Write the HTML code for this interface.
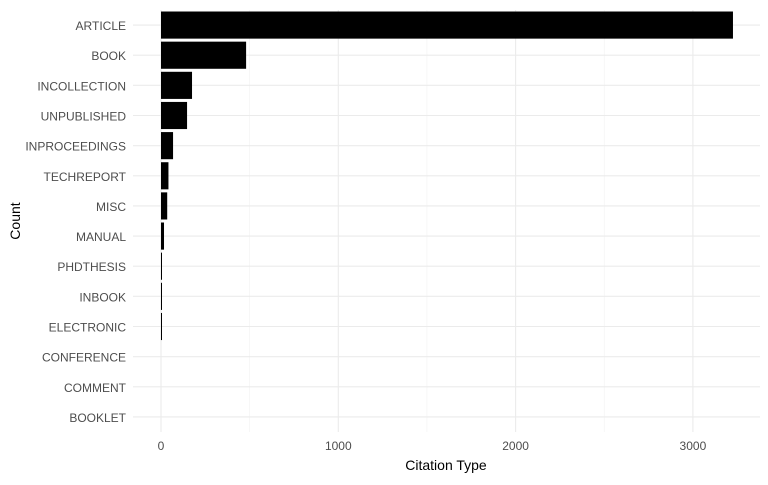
<!DOCTYPE html>
<html><head><meta charset="utf-8"><style>body{margin:0;background:#fff}svg{font-family:"Liberation Sans",sans-serif}</style></head>
<body>
<svg id="c" width="768" height="480" xmlns="http://www.w3.org/2000/svg"></svg>
<script>
const categories=["ARTICLE","BOOK","INCOLLECTION","UNPUBLISHED","INPROCEEDINGS","TECHREPORT","MISC","MANUAL","PHDTHESIS","INBOOK","ELECTRONIC","CONFERENCE","COMMENT","BOOKLET"];
const counts=[3226,480,175,147,68,42,35,17,5,4,4,0,0,0];
const xTicks=[0,1000,2000,3000];
const svg=document.getElementById('c');const NS="http://www.w3.org/2000/svg";
const x0=161,pxPer=0.1773,plotTop=10,plotBottom=432,L=133,R=760;
const band=(plotBottom-plotTop)/categories.length;
const X=v=>x0+v*pxPer;const Y=i=>plotTop+band*(i+0.5);
function mk(t,a,txt){const e=document.createElementNS(NS,t);for(const k in a)e.setAttribute(k,a[k]);if(txt!==undefined)e.textContent=txt;svg.appendChild(e);return e;}
for(let v=500;v<3600;v+=1000){if(X(v)<R){const g=mk('line',{x1:X(v),x2:X(v),y1:plotTop,y2:plotBottom,stroke:'#f2f2f2','stroke-width':0.6});}}
xTicks.forEach(v=>{const g=mk('line',{x1:X(v),x2:X(v),y1:plotTop,y2:plotBottom,stroke:'#ebebeb','stroke-width':1.1});
const t=mk('text',{x:X(v),y:450,'text-anchor':'middle','font-size':12,fill:'#4d4d4d'},v);});
categories.forEach((c,i)=>{const g=mk('line',{x1:L,x2:R,y1:Y(i),y2:Y(i),stroke:'#ebebeb','stroke-width':1.1});
const t=mk('text',{x:126,y:Y(i)+5,'text-anchor':'end','font-size':12,fill:'#4d4d4d'},c);});
categories.forEach((c,i)=>{const w=X(counts[i])-X(0);if(w<=0)return;const b=mk('rect',{x:X(0),y:Y(i)-band*0.45,width:Math.max(w,1),height:band*0.9,fill:'#000'});});
const xt=mk('text',{x:446,y:470,'text-anchor':'middle','font-size':14,fill:'#000'},'Citation Type');
const yt=mk('text',{x:20,y:221,'text-anchor':'middle','font-size':14,fill:'#000',transform:'rotate(-90 20 221)'},'Count');
</script>
</body></html>
